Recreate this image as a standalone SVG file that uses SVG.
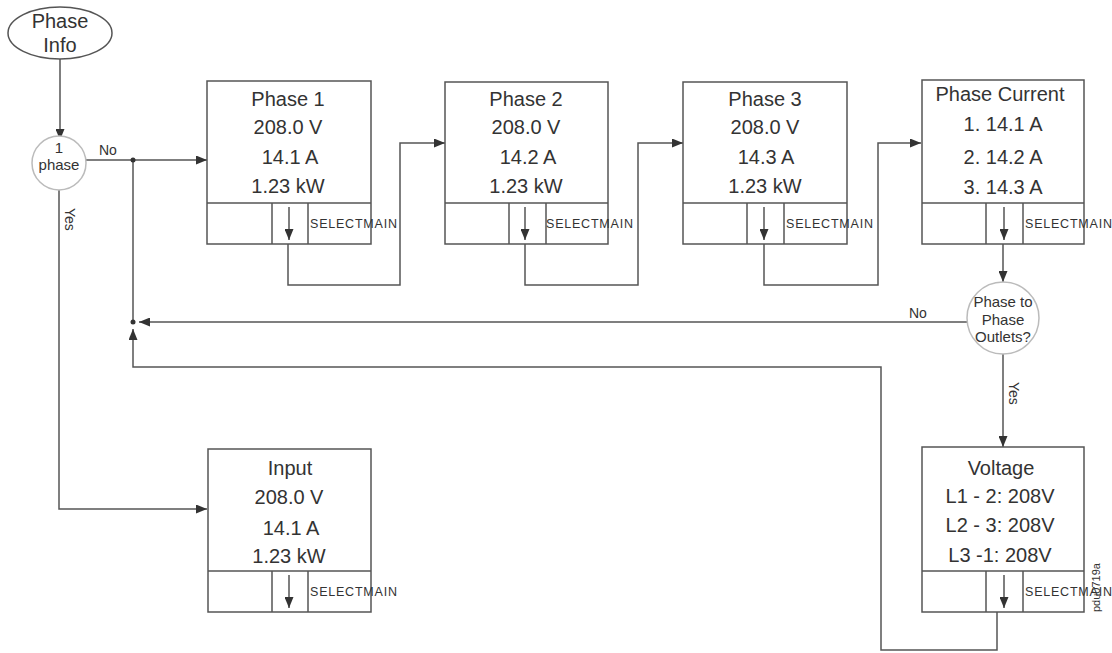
<svg xmlns="http://www.w3.org/2000/svg" width="1112" height="653" viewBox="0 0 1112 653">
<style>
.bg{fill:#fff}
.box{fill:#fff;stroke:#555;stroke-width:1.5}
.ln{fill:none;stroke:#555;stroke-width:1.5}
.cir{fill:#fff;stroke:#bbb;stroke-width:1.5}
.t{font-family:"Liberation Sans",Arial,sans-serif;fill:#333;text-anchor:middle}
.big{font-size:20px}
.sm{font-size:15px}
.lab{font-family:"Liberation Sans",Arial,sans-serif;fill:#333;font-size:14px}
.sel{font-family:"Liberation Sans",Arial,sans-serif;fill:#333;font-size:12.5px}
.dot{fill:#333}
</style>
<defs>
<marker id="ah" markerWidth="11" markerHeight="9" refX="11" refY="4.5" orient="auto" markerUnits="userSpaceOnUse">
<path d="M0,0 L11,4.5 L0,9 Z" fill="#333"/>
</marker>
</defs>
<rect class="bg" x="0" y="0" width="1112" height="653"/>

<g id="connectors">
<line class="ln" x1="60" y1="59" x2="60" y2="140" marker-end="url(#ah)"/>
<line class="ln" x1="86" y1="160" x2="207" y2="160" marker-end="url(#ah)"/>
<line class="ln" x1="133" y1="160" x2="133" y2="322"/>
<circle class="dot" cx="133" cy="160" r="2.5"/>
<polyline class="ln" points="59,190 59,509 207,509" marker-end="url(#ah)"/>
<polyline class="ln" points="288,244 288,285 400,285 400,143 445,143" marker-end="url(#ah)"/>
<polyline class="ln" points="525,244 525,285 638,285 638,143 683,143" marker-end="url(#ah)"/>
<polyline class="ln" points="764,244 764,285 878,285 878,143 921,143" marker-end="url(#ah)"/>
<line class="ln" x1="1003" y1="244" x2="1003" y2="282" marker-end="url(#ah)"/>
<line class="ln" x1="967" y1="322" x2="139" y2="322" marker-end="url(#ah)"/>
<circle class="dot" cx="133" cy="322" r="2.5"/>
<line class="ln" x1="1003" y1="354" x2="1003" y2="447" marker-end="url(#ah)"/>
<polyline class="ln" points="997,612 997,650 881,650 881,367 133,367 133,329" marker-end="url(#ah)"/>
<text class="lab" x="99" y="155">No</text>
<text class="lab" transform="translate(65,208) rotate(90)">Yes</text>
<text class="lab" x="909" y="318">No</text>
<text class="lab" transform="translate(1009,382) rotate(90)">Yes</text>
</g>

<g id="phase-info">
<ellipse class="box" cx="60" cy="33" rx="52" ry="26"/>
<text class="t big" x="60" y="28">Phase</text>
<text class="t big" x="60" y="52">Info</text>
</g>

<g id="one-phase">
<circle class="cir" cx="59" cy="163" r="27"/>
<text class="t sm" x="59" y="153">1</text>
<text class="t sm" x="59" y="170">phase</text>
</g>

<g id="phase1">
<rect class="box" x="207" y="81" width="164" height="163"/>
<line class="ln" x1="207" y1="203" x2="371" y2="203"/>
<line class="ln" x1="272" y1="203" x2="272" y2="244"/>
<line class="ln" x1="308" y1="203" x2="308" y2="244"/>
<line class="ln" x1="289" y1="207" x2="289" y2="240" marker-end="url(#ah)"/>
<text class="t big" x="288" y="106">Phase 1</text>
<text class="t big" x="288" y="134">208.0 V</text>
<text class="t big" x="290" y="164">14.1 A</text>
<text class="t big" x="288" y="193">1.23 kW</text>
<text class="sel" x="310" y="228" textLength="87">SELECTMAIN</text>
</g>

<g id="phase2">
<rect class="box" x="445" y="82" width="163" height="162"/>
<line class="ln" x1="445" y1="203" x2="608" y2="203"/>
<line class="ln" x1="509" y1="203" x2="509" y2="244"/>
<line class="ln" x1="546" y1="203" x2="546" y2="244"/>
<line class="ln" x1="525" y1="207" x2="525" y2="240" marker-end="url(#ah)"/>
<text class="t big" x="526" y="106">Phase 2</text>
<text class="t big" x="526" y="134">208.0 V</text>
<text class="t big" x="528" y="164">14.2 A</text>
<text class="t big" x="526" y="193">1.23 kW</text>
<text class="sel" x="546" y="228" textLength="87">SELECTMAIN</text>
</g>

<g id="phase3">
<rect class="box" x="683" y="82" width="164" height="162"/>
<line class="ln" x1="683" y1="203" x2="847" y2="203"/>
<line class="ln" x1="747" y1="203" x2="747" y2="244"/>
<line class="ln" x1="784" y1="203" x2="784" y2="244"/>
<line class="ln" x1="764" y1="207" x2="764" y2="240" marker-end="url(#ah)"/>
<text class="t big" x="765" y="106">Phase 3</text>
<text class="t big" x="765" y="134">208.0 V</text>
<text class="t big" x="766" y="164">14.3 A</text>
<text class="t big" x="765" y="193">1.23 kW</text>
<text class="sel" x="786" y="228" textLength="87">SELECTMAIN</text>
</g>

<g id="phase-current">
<rect class="box" x="922" y="80" width="162" height="164"/>
<line class="ln" x1="922" y1="203" x2="1084" y2="203"/>
<line class="ln" x1="986" y1="203" x2="986" y2="244"/>
<line class="ln" x1="1023" y1="203" x2="1023" y2="244"/>
<line class="ln" x1="1004" y1="207" x2="1004" y2="240" marker-end="url(#ah)"/>
<text class="t big" x="1000" y="101">Phase Current</text>
<text class="t big" x="1003" y="131">1. 14.1 A</text>
<text class="t big" x="1003" y="164">2. 14.2 A</text>
<text class="t big" x="1003" y="194">3. 14.3 A</text>
<text class="sel" x="1025" y="228" textLength="87">SELECTMAIN</text>
</g>

<g id="phase-to-phase">
<circle class="cir" cx="1003" cy="318" r="36"/>
<text class="t sm" x="1003" y="307">Phase to</text>
<text class="t sm" x="1003" y="325">Phase</text>
<text class="t sm" x="1003" y="342">Outlets?</text>
</g>

<g id="voltage">
<rect class="box" x="922" y="447" width="162" height="165"/>
<line class="ln" x1="922" y1="571" x2="1084" y2="571"/>
<line class="ln" x1="986" y1="571" x2="986" y2="612"/>
<line class="ln" x1="1023" y1="571" x2="1023" y2="612"/>
<line class="ln" x1="1004" y1="575" x2="1004" y2="608" marker-end="url(#ah)"/>
<text class="t big" x="1001" y="475">Voltage</text>
<text class="t big" x="1000" y="503">L1 - 2: 208V</text>
<text class="t big" x="1000" y="532">L2 - 3: 208V</text>
<text class="t big" x="1000" y="562">L3 -1: 208V</text>
<text class="sel" x="1025" y="596" textLength="87">SELECTMAIN</text>
</g>

<g id="input">
<rect class="box" x="208" y="449" width="163" height="163"/>
<line class="ln" x1="208" y1="571" x2="371" y2="571"/>
<line class="ln" x1="272" y1="571" x2="272" y2="612"/>
<line class="ln" x1="308" y1="571" x2="308" y2="612"/>
<line class="ln" x1="289" y1="575" x2="289" y2="608" marker-end="url(#ah)"/>
<text class="t big" x="290" y="475">Input</text>
<text class="t big" x="289" y="504">208.0 V</text>
<text class="t big" x="291" y="535">14.1 A</text>
<text class="t big" x="289" y="563">1.23 kW</text>
<text class="sel" x="310" y="596" textLength="87">SELECTMAIN</text>
</g>

<text class="lab" style="font-size:11px" transform="translate(1100,612) rotate(-90)">pdu0719a</text>
</svg>
